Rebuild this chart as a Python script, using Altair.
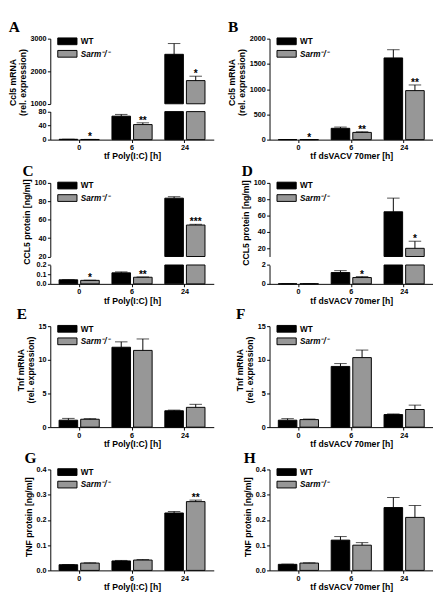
import altair as alt
import pandas as pd

FONT = "Liberation Sans"
SERIF = "Liberation Serif"

# ---------------- shared categories ----------------
times = ["0", "6", "24"]
groups = ["WT", "Sarm\u207b/\u207b"]
bar_colors = ["#000000", "#979797"]

x_title_pic = "tf Poly(I:C) [h]"
x_title_vacv = "tf dsVACV 70mer [h]"
y_title_ccl5_mrna = ["Ccl5 mRNA", "(rel. expression)"]
y_title_ccl5_prot = "CCL5 protein [ng/ml]"
y_title_tnf_mrna = ["Tnf mRNA", "(rel. expression)"]
y_title_tnf_prot = "TNF protein [ng/ml]"
no_sig = ["", "", ""]

# ---------------- Panel A : Ccl5 mRNA, Poly(I:C) ----------------
a_wt = [1.0, 67.0, 2520.0]
a_wt_err = [0.2, 5.0, 330.0]
a_ko = [0.5, 43.0, 1712.0]
a_ko_err = [0.1, 5.0, 135.0]
a_ko_sig = ["*", "**", "*"]
a_ticks_upper = [1000, 2000, 3000]
a_ticks_lower = [0, 40, 80]

# ---------------- Panel B : Ccl5 mRNA, dsVACV ----------------
b_wt = [1.0, 224.0, 1619.0]
b_wt_err = [0.2, 25.0, 162.0]
b_ko = [0.5, 143.0, 971.0]
b_ko_err = [0.1, 13.0, 112.0]
b_ko_sig = ["*", "**", "**"]
b_ticks = [0, 500, 1000, 1500, 2000]

# ---------------- Panel C : CCL5 protein, Poly(I:C) ----------------
c_wt = [0.043, 0.117, 83.4]
c_wt_err = [0.001, 0.010, 1.6]
c_ko = [0.037, 0.070, 54.2]
c_ko_err = [0.002, 0.003, 0.8]
c_ko_sig = ["*", "**", "***"]
c_ticks_upper = [20, 40, 60, 80, 100]
c_ticks_lower = [0.0, 0.1, 0.2]

# ---------------- Panel D : CCL5 protein, dsVACV ----------------
d_wt = [0.01, 1.20, 64.7]
d_wt_err = [0.005, 0.20, 16.7]
d_ko = [0.01, 0.67, 20.0]
d_ko_err = [0.005, 0.10, 8.7]
d_ko_sig = ["", "*", "*"]
d_ticks_upper = [20, 40, 60, 80, 100]
d_ticks_lower = [0, 1, 2]

# ---------------- Panel E : Tnf mRNA, Poly(I:C) ----------------
e_wt = [1.03, 11.87, 2.43]
e_wt_err = [0.27, 0.80, 0.10]
e_ko = [1.17, 11.40, 2.94]
e_ko_err = [0.09, 1.70, 0.45]
e_ticks = [0, 5, 10, 15]

# ---------------- Panel F : Tnf mRNA, dsVACV ----------------
f_wt = [1.03, 9.02, 1.87]
f_wt_err = [0.23, 0.42, 0.09]
f_ko = [1.12, 10.33, 2.62]
f_ko_err = [0.08, 1.12, 0.65]
f_ticks = [0, 5, 10, 15]

# ---------------- Panel G : TNF protein, Poly(I:C) ----------------
g_wt = [0.0225, 0.0375, 0.2275]
g_wt_err = [0.001, 0.002, 0.006]
g_ko = [0.029, 0.041, 0.2725]
g_ko_err = [0.001, 0.002, 0.006]
g_ko_sig = ["", "", "**"]
g_ticks = [0.0, 0.1, 0.2, 0.3, 0.4]

# ---------------- Panel H : TNF protein, dsVACV ----------------
h_wt = [0.024, 0.120, 0.249]
h_wt_err = [0.001, 0.014, 0.040]
h_ko = [0.029, 0.100, 0.210]
h_ko_err = [0.001, 0.010, 0.047]
h_ticks = [0.0, 0.1, 0.2, 0.3, 0.4]

# ---------------- layout ----------------
W = 170
H = 105


def make_df(wt, wt_err, ko, ko_err, wt_sig, ko_sig):
    rows = []
    for i, t in enumerate(times):
        rows.append(dict(time=t, group=groups[0], mean=wt[i], err=wt_err[i], sig=wt_sig[i]))
        rows.append(dict(time=t, group=groups[1], mean=ko[i], err=ko_err[i], sig=ko_sig[i]))
    df = pd.DataFrame(rows)
    df["top"] = df["mean"] + df["err"]
    return df


XO = alt.XOffset("group:N", sort=groups, scale=alt.Scale(paddingInner=0.14, paddingOuter=0))

LEGEND = alt.Legend(
    title=None, orient="none", legendX=13.5, legendY=-1.5, padding=0,
    symbolType="M-2.857,-1H2.857V1H-2.857Z", symbolSize=49,
    symbolStrokeColor="black", symbolStrokeWidth=1,
    labelOffset=9.75, rowPadding=1,
    labelFont=FONT, labelFontSize=8.5, labelFontWeight="bold", labelColor="black",
    labelFontStyle=alt.ExprRef(expr="datum.value == 'WT' ? 'normal' : 'italic'"),
)
COLOR = alt.Color("group:N", sort=groups,
                  scale=alt.Scale(domain=groups, range=bar_colors), legend=LEGEND)


def x_enc(title):
    return alt.X("time:N", sort=times,
                 scale=alt.Scale(paddingInner=0.24, paddingOuter=0.166),
                 axis=alt.Axis(title=title, labelAngle=0))


def seg(df, xe, domain, ticks, fmt, ytitle, title_y, rng=None,
        bar_filter=None, mark_filter=None):
    skw = dict(domain=domain, nice=False, zero=False)
    if rng is not None:
        skw["range"] = rng
        skw["clamp"] = True
    sc = alt.Scale(**skw)
    akw = dict(values=ticks, format=fmt, orient="left", labelOverlap=False, title=ytitle)
    if title_y is not None:
        akw["titleY"] = title_y
    ax = alt.Axis(**akw)

    bsrc = alt.Chart(df)
    if bar_filter:
        bsrc = bsrc.transform_filter(bar_filter)
    bars = bsrc.mark_bar(stroke="black", strokeWidth=1).encode(
        x=xe, xOffset=XO,
        y=alt.Y("mean:Q", scale=sc, axis=ax),
        y2=alt.datum(domain[0]),
        color=COLOR,
    )
    msrc = alt.Chart(df)
    if mark_filter:
        msrc = msrc.transform_filter(mark_filter)
    err = msrc.mark_rule(color="black", strokeWidth=1).encode(
        x=xe, xOffset=XO,
        y=alt.Y("mean:Q", scale=sc, axis=ax), y2="top:Q")
    cap = msrc.mark_tick(color="black", thickness=1, size=13, orient="horizontal").encode(
        x=xe, xOffset=XO, y=alt.Y("top:Q", scale=sc, axis=ax))
    txt = msrc.mark_text(font=FONT, fontSize=10.5, fontWeight="bold", color="black",
                         baseline="alphabetic", align="center", dy=1).encode(
        x=xe, xOffset=XO, y=alt.Y("top:Q", scale=sc, axis=ax), text="sig:N")
    return alt.layer(bars, err, cap, txt)


def letter(t):
    return alt.TitleParams(text=t, anchor="start", frame="bounds", font=SERIF,
                           fontSize=16, fontWeight="bold", color="black", offset=0)


f = H / 107.0

# A (broken axis)
dfA = make_df(a_wt, a_wt_err, a_ko, a_ko_err, no_sig, a_ko_sig)
xA = x_enc(x_title_pic)
pA = alt.layer(
    seg(dfA, xA, [1000, 3000], a_ticks_upper, "d", y_title_ccl5_mrna, 46 * f,
        rng=[69 * f, 0], bar_filter="datum.mean > 1000", mark_filter="datum.mean > 1000"),
    seg(dfA, xA, [0, 80], a_ticks_lower, "d", None, None,
        rng=[H, 77.3 * f], mark_filter="datum.mean <= 80"),
).resolve_scale(y="independent").properties(width=W, height=H, title=letter("A"))

# B
dfB = make_df(b_wt, b_wt_err, b_ko, b_ko_err, no_sig, b_ko_sig)
pB = seg(dfB, x_enc(x_title_vacv), [0, 2000], b_ticks, "d", y_title_ccl5_mrna, 46 * f
         ).properties(width=W, height=H, title=letter("B"))

# C (broken axis)
dfC = make_df(c_wt, c_wt_err, c_ko, c_ko_err, no_sig, c_ko_sig)
xC = x_enc(x_title_pic)
pC = alt.layer(
    seg(dfC, xC, [20, 100], c_ticks_upper, "d", y_title_ccl5_prot, 41 * f,
        rng=[78 * f, 0], bar_filter="datum.mean > 20", mark_filter="datum.mean > 20"),
    seg(dfC, xC, [0, 0.2], c_ticks_lower, ".1f", None, None,
        rng=[H, 87 * f], mark_filter="datum.mean <= 0.2"),
).resolve_scale(y="independent").properties(width=W, height=H, title=letter("C"))

# D (broken axis)
dfD = make_df(d_wt, d_wt_err, d_ko, d_ko_err, no_sig, d_ko_sig)
xD = x_enc(x_title_vacv)
pD = alt.layer(
    seg(dfD, xD, [10, 100], d_ticks_upper, "d", y_title_ccl5_prot, 42 * f,
        rng=[78 * f, 0], bar_filter="datum.mean > 10", mark_filter="datum.mean > 10"),
    seg(dfD, xD, [0, 2], d_ticks_lower, "d", None, None,
        rng=[H, 87 * f], mark_filter="datum.mean <= 2"),
).resolve_scale(y="independent").properties(width=W, height=H, title=letter("D"))

# E
dfE = make_df(e_wt, e_wt_err, e_ko, e_ko_err, no_sig, no_sig)
pE = seg(dfE, x_enc(x_title_pic), [0, 15], e_ticks, "d", y_title_tnf_mrna, 46 * f
         ).properties(width=W, height=H, title=letter("E"))

# F
dfF = make_df(f_wt, f_wt_err, f_ko, f_ko_err, no_sig, no_sig)
pF = seg(dfF, x_enc(x_title_vacv), [0, 15], f_ticks, "d", y_title_tnf_mrna, 46 * f
         ).properties(width=W, height=H, title=letter("F"))

# G
dfG = make_df(g_wt, g_wt_err, g_ko, g_ko_err, no_sig, g_ko_sig)
pG = seg(dfG, x_enc(x_title_pic), [0, 0.4], g_ticks, ".1f", y_title_tnf_prot, 50 * f
         ).properties(width=W, height=H, title=letter("G"))

# H
dfH = make_df(h_wt, h_wt_err, h_ko, h_ko_err, no_sig, no_sig)
pH = seg(dfH, x_enc(x_title_vacv), [0, 0.4], h_ticks, ".1f", y_title_tnf_prot, 50 * f
         ).properties(width=W, height=H, title=letter("H"))

chart = alt.concat(
    pA, pB, pC, pD, pE, pF, pG, pH, columns=2, spacing={"row": 2, "column": 14}
).resolve_scale(color="independent").resolve_legend(color="independent").properties(
    padding={"left": 0, "right": 0, "top": 0, "bottom": 0}
).configure_view(stroke=None).configure_axis(
    domainColor="black", domainWidth=1, tickColor="black", tickWidth=1, tickSize=3,
    labelFont=FONT, labelFontSize=7.5, labelFontWeight="bold", labelColor="black",
    labelPadding=1.5, titleFont=FONT, titleFontSize=9, titleFontWeight="bold",
    titleColor="black", titlePadding=3, titleLineHeight=10, grid=False,
).configure_axisX(titlePadding=1)

chart.save("out.html", embed_options={"renderer": "svg", "actions": False})
